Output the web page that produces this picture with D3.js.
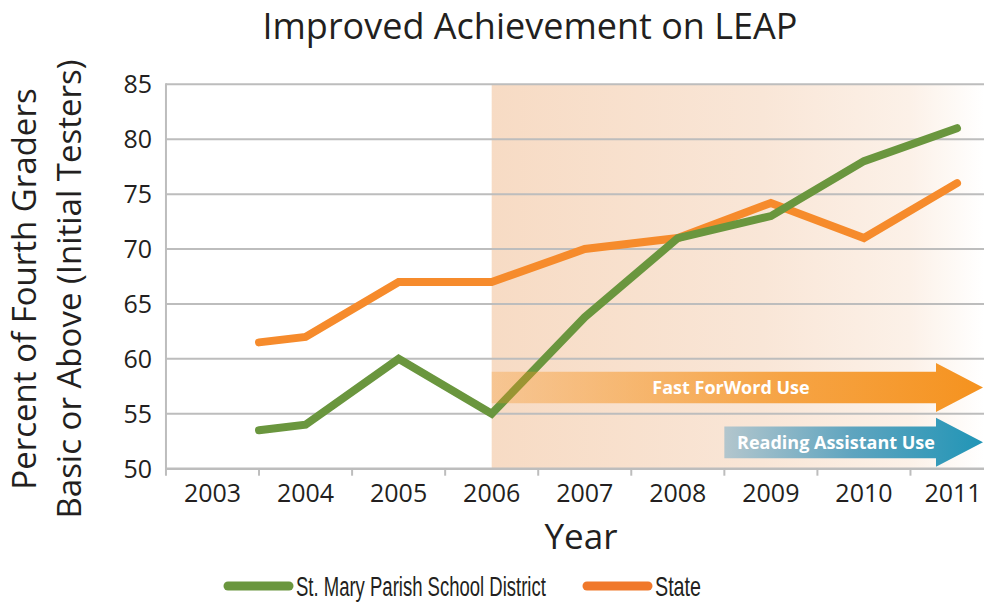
<!DOCTYPE html>
<html>
<head>
<meta charset="utf-8">
<script src="https://cdn.jsdelivr.net/npm/d3@7"></script>
<style>
  body { margin: 0; background: #fff; }
  svg { display: block; }
  text { fill: #231f20; }
</style>
</head>
<body>
<div id="chart"></div>
<script>
// values
const years = [2003.5, 2004, 2005, 2006, 2007, 2008, 2009, 2010, 2011];
const district = [53.5, 54, 60, 55, 63.8, 71, 73, 78, 81];
const state = [61.5, 62, 67, 67, 70, 71, 74.2, 71, 76];
const tickYears = [2003, 2004, 2005, 2006, 2007, 2008, 2009, 2010, 2011];
const yTicks = [50, 55, 60, 65, 70, 75, 80, 85];
const programNames = ['Fast ForWord Use', 'Reading Assistant Use'];
const programStart = [2006, 2008.5];
const programLevel = [57.4, 52.4];

let width = 984,
    height = 603;

let svg = d3.select('#chart').append('svg')
    .attr('width', width)
    .attr('height', height);

let xScale = d3.scaleLinear()
    .domain([2003, 2011])
    .range([212.5, 957]);

let yScale = d3.scaleLinear()
    .domain([50, 85])
    .range([468.7, 84.3]);

let defs = svg.append('defs');

function gradient(id, stops) {
    let g = defs.append('linearGradient')
        .attr('id', id)
        .attr('x1', '0%').attr('x2', '100%')
        .attr('y1', '0%').attr('y2', '0%');
    stops.forEach(s => g.append('stop')
        .attr('offset', s[0])
        .attr('stop-color', s[1])
        .attr('stop-opacity', s[2] === undefined ? 1 : s[2]));
}
gradient('shade', [[0, '#f7dbc4'], [0.55, '#f9e6d7'], [0.85, '#fcf1e8'], [1, '#ffffff']]);
gradient('ffw', [[0, '#f5921e', 0.3], [0.6, '#f5921e', 0.8], [1, '#f5921e', 1]]);
gradient('ra', [[0, '#b3c6cd'], [0.5, '#5ea4bf'], [1, '#2195b6']]);

// shaded period of program use
svg.append('rect')
    .attr('x', xScale(2006))
    .attr('y', yScale(85))
    .attr('width', width - xScale(2006))
    .attr('height', yScale(50) - yScale(85))
    .attr('fill', 'url(#shade)');

// horizontal gridlines
svg.append('g')
    .selectAll('line')
    .data(yTicks.slice(1))
    .join('line')
    .attr('x1', xScale(2002.5))
    .attr('x2', width)
    .attr('y1', d => yScale(d))
    .attr('y2', d => yScale(d))
    .attr('stroke', '#bdbdbd')
    .attr('stroke-width', 2);

// x axis baseline and ticks
svg.append('line')
    .attr('x1', xScale(2002.5))
    .attr('x2', width)
    .attr('y1', yScale(50))
    .attr('y2', yScale(50))
    .attr('stroke', '#bdbdbd')
    .attr('stroke-width', 2.5);

svg.append('g')
    .selectAll('line')
    .data(tickYears.slice(0, -1))
    .join('line')
    .attr('x1', d => xScale(d + 0.5))
    .attr('x2', d => xScale(d + 0.5))
    .attr('y1', yScale(50))
    .attr('y2', yScale(50) + 7)
    .attr('stroke', '#bdbdbd')
    .attr('stroke-width', 2);

// y axis line
svg.append('line')
    .attr('x1', xScale(2002.5))
    .attr('x2', xScale(2002.5))
    .attr('y1', yScale(85) - 1)
    .attr('y2', yScale(50) + 7)
    .attr('stroke', '#bdbdbd')
    .attr('stroke-width', 2);

// tick labels
svg.append('g')
    .selectAll('text')
    .data(yTicks)
    .join('text')
    .attr('x', 152)
    .attr('y', d => yScale(d))
    .attr('dy', '0.36em')
    .attr('text-anchor', 'end')
    .style('font-family', '"Open Sans", sans-serif')
    .style('font-size', '25px')
    .text(d => d);

svg.append('g')
    .selectAll('text')
    .data(tickYears)
    .join('text')
    .attr('x', d => Math.min(xScale(d), 953))
    .attr('y', 502)
    .attr('text-anchor', 'middle')
    .style('font-family', '"Open Sans", sans-serif')
    .style('font-size', '25px')
    .text(d => d);

// lines
let line = d3.line()
    .x((d, i) => xScale(years[i]))
    .y(d => yScale(d));

svg.append('path')
    .datum(state)
    .attr('d', line)
    .attr('fill', 'none')
    .attr('stroke', '#f68b2c')
    .attr('stroke-width', 8)
    .attr('stroke-linecap', 'round')
    .attr('stroke-linejoin', 'miter');

svg.append('path')
    .datum(district)
    .attr('d', line)
    .attr('fill', 'none')
    .attr('stroke', '#6a963e')
    .attr('stroke-width', 8)
    .attr('stroke-linecap', 'round')
    .attr('stroke-linejoin', 'miter');

// program arrows
let arrowEnd = width - 1,
    headLen = 47;
programNames.forEach((name, i) => {
    let x0 = xScale(programStart[i]),
        yc = yScale(programLevel[i]),
        half = 15.8,
        headHalf = 24.5,
        xh = arrowEnd - headLen;
    let pts = [[x0, yc - half], [xh, yc - half], [xh, yc - headHalf], [arrowEnd, yc],
               [xh, yc + headHalf], [xh, yc + half], [x0, yc + half]];
    svg.append('path')
        .attr('d', d3.line()(pts) + 'Z')
        .attr('fill', i === 0 ? 'url(#ffw)' : 'url(#ra)');
    svg.append('text')
        .attr('x', i === 0 ? 731 : 836)
        .attr('y', yc)
        .attr('dy', '0.36em')
        .attr('text-anchor', 'middle')
        .style('font-family', '"Open Sans", sans-serif')
        .style('font-weight', 'bold')
        .style('font-size', '18px')
        .style('fill', '#fff')
        .text(name);
});

// titles
svg.append('text')
    .attr('x', 530)
    .attr('y', 39)
    .attr('text-anchor', 'middle')
    .style('font-family', '"Open Sans", sans-serif')
    .style('font-size', '36px')
    .text('Improved Achievement on LEAP');

svg.append('text')
    .attr('x', 581)
    .attr('y', 549)
    .attr('text-anchor', 'middle')
    .style('font-family', '"Open Sans", sans-serif')
    .style('font-size', '35px')
    .text('Year');

let yTitle = svg.append('text')
    .attr('transform', 'translate(0, 289) rotate(-90)')
    .attr('text-anchor', 'middle')
    .style('font-family', '"Open Sans", sans-serif')
    .style('font-size', '33px');
yTitle.append('tspan').attr('x', 0).attr('y', 36).text('Percent of Fourth Graders');
yTitle.append('tspan').attr('x', 0).attr('y', 81).text('Basic or Above (Initial Testers)');

// legend (condensed face approximated by horizontal squeeze)
let legend = [
    {name: 'St. Mary Parish School District', color: '#6a963e', x: 228, w: 250},
    {name: 'State', color: '#f0782a', x: 587, w: 46}
];
let lg = svg.append('g')
    .selectAll('g')
    .data(legend)
    .join('g')
    .attr('transform', d => `translate(${d.x}, 586)`);
lg.append('line')
    .attr('x1', 0).attr('x2', 61)
    .attr('stroke', d => d.color)
    .attr('stroke-width', 9)
    .attr('stroke-linecap', 'round');
lg.append('text')
    .attr('dy', '0.36em')
    .style('font-family', '"Liberation Sans", Arial, sans-serif')
    .style('font-size', '28px')
    .text(d => d.name)
    .attr('transform', function (d) {
        let sx = d.w / this.getComputedTextLength();
        return `translate(68, 0) scale(${sx}, 1)`;
    });
</script>
</body>
</html>
